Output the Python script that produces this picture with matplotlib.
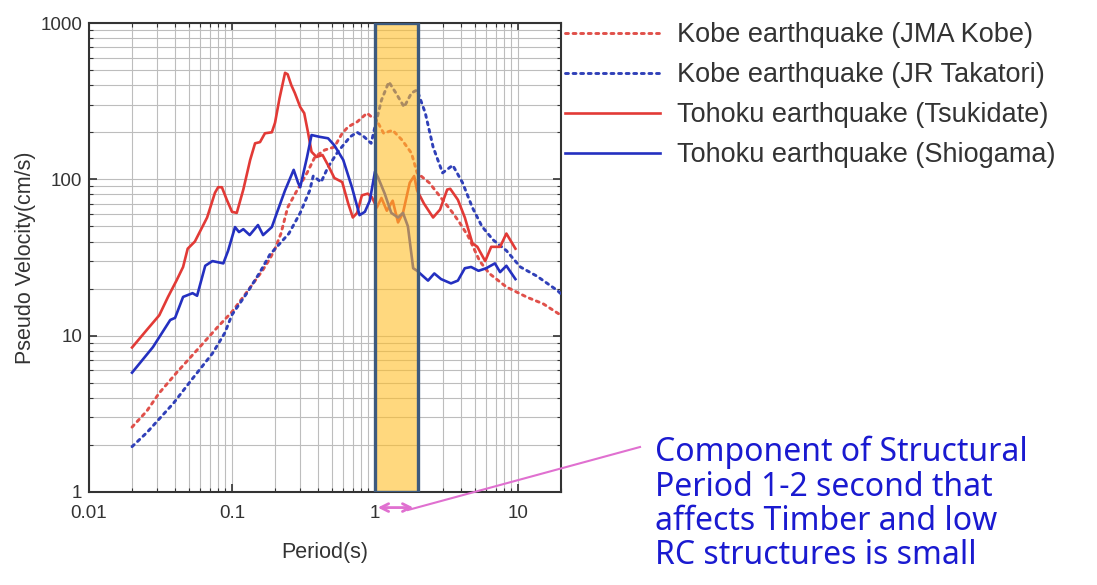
import matplotlib
matplotlib.use("Agg")
import matplotlib.pyplot as plt
from matplotlib.ticker import FixedLocator, FixedFormatter, LogLocator, NullFormatter

# ---------------- data ----------------
tsukidate_T = [0.02, 0.0254, 0.031, 0.0357, 0.041, 0.0455, 0.049, 0.055, 0.067, 0.076, 0.08,
               0.085, 0.092, 0.1, 0.108, 0.12, 0.134, 0.145, 0.157, 0.17, 0.19, 0.2, 0.215,
               0.235, 0.245, 0.26, 0.275, 0.3, 0.32, 0.34, 0.36, 0.39, 0.43, 0.47, 0.52, 0.59,
               0.65, 0.70, 0.75, 0.81, 0.89, 0.95, 1.03, 1.11, 1.21, 1.33, 1.45, 1.57, 1.75,
               1.88, 1.97, 2.2, 2.55, 2.85, 3.2, 3.36, 3.8, 4.25, 4.8, 5.2, 5.9, 6.5, 7.5, 8.3, 9.6]
tsukidate_V = [8.4, 10.9, 13.5, 17.7, 22.6, 27.5, 36, 40, 57, 82, 89,
               89, 74, 62, 61, 86, 133, 170, 173, 197, 200, 230, 330,
               480, 470, 400, 357, 290, 265, 200, 150, 139, 143, 123, 102, 96,
               70, 57, 61, 79, 81, 77, 66, 76, 63, 73, 53, 61, 95,
               105, 85, 70, 57, 64, 86, 87, 74, 57, 39, 37, 30, 37, 37, 45, 36]

shiogama_T = [0.02, 0.028, 0.037, 0.04, 0.0455, 0.053, 0.057, 0.065, 0.073, 0.087, 0.094,
              0.105, 0.112, 0.12, 0.133, 0.152, 0.165, 0.19, 0.206, 0.235, 0.27, 0.29, 0.30,
              0.335, 0.36, 0.41, 0.47, 0.52, 0.6, 0.69, 0.78, 0.85, 0.92, 1.0, 1.05, 1.17,
              1.3, 1.45, 1.57, 1.7, 1.85, 1.97, 2.35, 2.6, 2.9, 3.4, 3.8, 4.25, 4.7, 5.3,
              6.0, 6.9, 7.5, 8.3, 9.6]
shiogama_V = [5.8, 8.45, 12.6, 13, 17.7, 18.7, 18, 28, 30, 29, 35,
              49.5, 46, 48, 44, 51, 44, 49.5, 61, 85, 115, 95, 89,
              139, 192, 187, 183, 165, 133, 89, 59, 62, 73, 112, 103, 81,
              61, 57, 61, 50, 27, 26, 22.5, 25, 23, 21.6, 22.5, 27, 27.5, 26,
              27, 29, 25.5, 28, 23]

jma_kobe_T = [0.02, 0.0254, 0.031, 0.041, 0.057, 0.079, 0.1, 0.127, 0.163, 0.184, 0.2, 0.22,
              0.245, 0.285, 0.335, 0.38, 0.445, 0.52, 0.59, 0.65, 0.75, 0.88, 0.95, 1.0,
              1.15, 1.33, 1.55, 1.8, 1.97, 2.4, 2.97, 3.5, 3.9, 4.5, 5.4, 6.3, 8.3, 11.6,
              15, 20]
jma_kobe_V = [2.6, 3.3, 4.3, 5.8, 8.1, 11.3, 14.2, 19, 26, 31, 36, 45,
              66, 85, 110, 139, 154, 161, 197, 217, 233, 265, 250, 250,
              197, 206, 178, 147, 110, 95, 74, 61, 53, 43, 30, 25, 20.5, 17.6,
              16, 13.5]

takatori_T = [0.02, 0.0254, 0.039, 0.052, 0.073, 0.089, 0.1, 0.127, 0.157, 0.184, 0.25,
              0.30, 0.35, 0.37, 0.42, 0.47, 0.55, 0.67, 0.75, 0.84, 0.94, 1.0, 1.11, 1.25,
              1.4, 1.6, 1.8, 1.97, 2.25, 2.55, 2.97, 3.5, 4.1, 4.8, 5.6, 6.7, 8.3, 10.4,
              13.6, 18.8, 20]
takatori_V = [1.95, 2.4, 3.7, 5.2, 7.7, 10.4, 13.6, 18.7, 25.5, 33, 45,
              61, 85, 105, 96, 120, 150, 187, 200, 187, 170, 217, 321, 420,
              357, 290, 357, 373, 265, 161, 110, 123, 95, 66, 50, 41, 35, 27.5,
              24, 19.5, 18.5]

labels = ["Kobe earthquake (JMA Kobe)", "Kobe earthquake (JR Takatori)",
          "Tohoku earthquake (Tsukidate)", "Tohoku earthquake (Shiogama)"]
x_ticks = [0.01, 0.1, 1, 10]
x_ticklabels = ["0.01", "0.1", "1", "10"]
y_ticks = [1, 10, 100, 1000]
y_ticklabels = ["1", "10", "100", "1000"]
band = (1, 2)
note = "Component of Structural\nPeriod 1-2 second that\naffects Timber and low\nRC structures is small"

# ---------------- figure ----------------
plt.rcParams["font.family"] = ["Liberation Sans", "DejaVu Sans"]
W, H = 1097, 585
fig = plt.figure(figsize=(W / 100, H / 100), dpi=100)
ax = fig.add_axes([89 / W, 1 - 492 / H, (561 - 89) / W, (492 - 23) / H])

red = "#e23a36"
blue = "#2430c0"
red_dot = "#e0504a"
blue_dot = "#3040b8"
dot = (0, (1, 1.6))

l1, = ax.plot(jma_kobe_T, jma_kobe_V, color=red_dot, lw=2.1, ls=dot, dash_capstyle="round", zorder=3)
l2, = ax.plot(takatori_T, takatori_V, color=blue_dot, lw=2.1, ls=dot, dash_capstyle="round", zorder=3)
l3, = ax.plot(tsukidate_T, tsukidate_V, color=red, lw=1.9, zorder=3)
l4, = ax.plot(shiogama_T, shiogama_V, color=blue, lw=1.9, zorder=3)

ax.axvspan(band[0], band[1], facecolor="#ffbe28", alpha=0.6, edgecolor="none", zorder=4)
ax.axvspan(band[0], band[1], facecolor="none", edgecolor="#3d5a7e", lw=2.4, zorder=5)

ax.set_xscale("log")
ax.set_yscale("log")
ax.set_xlim(0.01, 20)
ax.set_ylim(1, 1000)

ax.xaxis.set_major_locator(FixedLocator(x_ticks))
ax.xaxis.set_major_formatter(FixedFormatter(x_ticklabels))
ax.yaxis.set_major_locator(FixedLocator(y_ticks))
ax.yaxis.set_major_formatter(FixedFormatter(y_ticklabels))
ax.xaxis.set_minor_locator(LogLocator(base=10, subs=range(2, 10)))
ax.yaxis.set_minor_locator(LogLocator(base=10, subs=range(2, 10)))
ax.xaxis.set_minor_formatter(NullFormatter())
ax.yaxis.set_minor_formatter(NullFormatter())

ax.grid(True, which="both", color="#bdbdbd", lw=0.8, zorder=0)
ax.set_axisbelow(True)
ax.tick_params(which="both", direction="in", top=True, right=True, colors="#333333",
               labelsize=13.5, labelcolor="#333333")
ax.tick_params(which="major", length=6, width=1.2)
ax.tick_params(axis="y", which="major", pad=5)
ax.tick_params(axis="x", which="major", pad=9)
ax.tick_params(which="minor", length=3, width=0.8)
for s in ax.spines.values():
    s.set_color("#333333")
    s.set_linewidth(1.5)

ax.set_xlabel("Period(s)", fontsize=15.5, color="#333333", labelpad=15)
ax.set_ylabel("Pseudo Velocity(cm/s)", fontsize=15.5, color="#333333", labelpad=3)

fig.legend([l1, l2, l3, l4], labels, loc="upper left", bbox_to_anchor=(565 / W, 1 - 22 / H),
           frameon=False, fontsize=19.5, handlelength=3.5, handletextpad=0.65,
           labelspacing=0.52, borderpad=0, borderaxespad=0, labelcolor="#333333")

# pink double-headed arrow under the band
ax.annotate("", xy=(band[0], 0.795), xytext=(band[1] * 0.97, 0.795),
            xycoords="data", textcoords="data", annotation_clip=False,
            arrowprops=dict(arrowstyle="<->", color="#e070d0", lw=2, mutation_scale=14))
# pink pointer line from note
fig.add_artist(plt.Line2D([408 / W, 640 / W], [1 - 510 / H, 1 - 447 / H],
                          color="#e070d0", lw=1.5, transform=fig.transFigure))

fig.text(655 / W, 1 - 436 / H, note, fontsize=23, color="#1a1ad0", va="top", ha="left",
         family=["Noto Sans", "DejaVu Sans"], linespacing=1.05)

fig.savefig("out.png", dpi=100)
